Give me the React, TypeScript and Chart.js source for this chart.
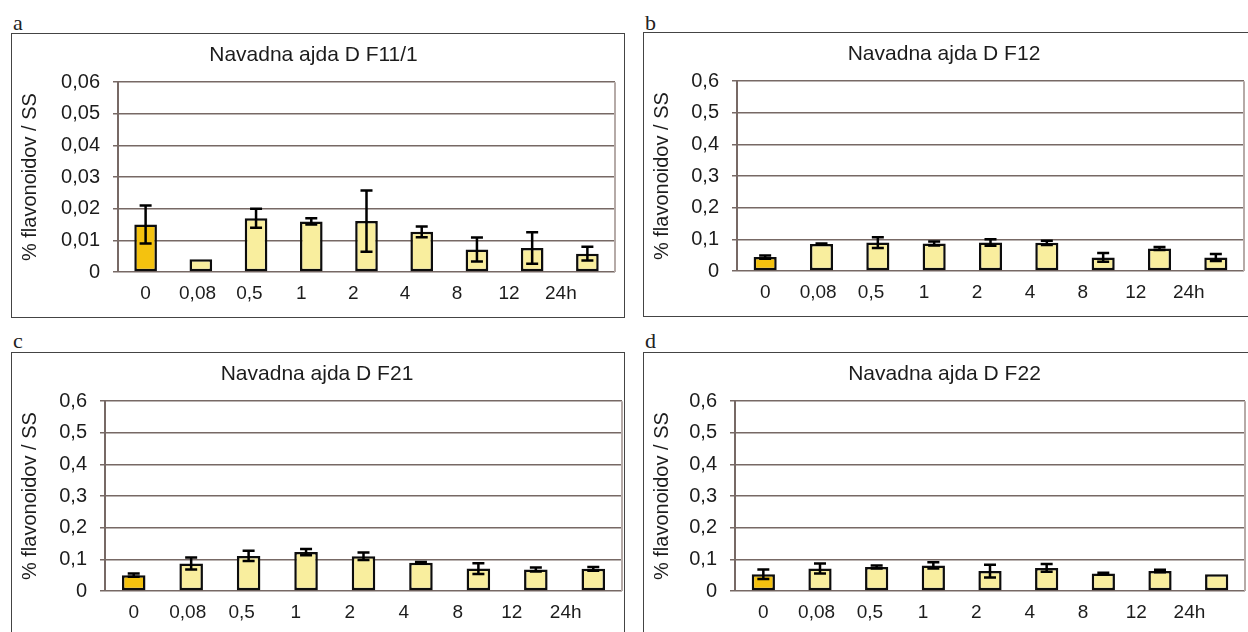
import React, { useEffect, useRef } from 'react';
import { Chart, registerables } from 'chart.js';

Chart.register(...registerables);

// ---- data ----
const CATEGORIES = ['0', '0,08', '0,5', '1', '2', '4', '8', '12', '24h'];

const F11_MEAN = [0.015, 0.004, 0.017, 0.016, 0.0161, 0.0127, 0.0071, 0.0076, 0.0058];
const F11_ERR = [0.006, 0, 0.003, 0.001, 0.0097, 0.0017, 0.0038, 0.005, 0.0022];

const F12_MEAN = [0.044, 0.085, 0.09, 0.087, 0.09, 0.089, 0.043, 0.071, 0.043];
const F12_ERR = [0.005, 0.002, 0.017, 0.006, 0.01, 0.007, 0.014, 0.005, 0.011];

const F21_MEAN = [0.05, 0.087, 0.111, 0.123, 0.11, 0.089, 0.071, 0.068, 0.07];
const F21_ERR = [0.005, 0.019, 0.016, 0.01, 0.012, 0.003, 0.017, 0.006, 0.006];

const F22_MEAN = [0.053, 0.071, 0.076, 0.081, 0.063, 0.073, 0.055, 0.063, 0.053];
const F22_ERR = [0.015, 0.016, 0.005, 0.01, 0.02, 0.012, 0.003, 0.004, 0];

const MEANS = [F11_MEAN, F12_MEAN, F21_MEAN, F22_MEAN];
const ERRS = [F11_ERR, F12_ERR, F21_ERR, F22_ERR];

const PANEL_LETTERS = ['a', 'b', 'c', 'd'];
const TITLES = ['Navadna ajda D F11/1', 'Navadna ajda D F12', 'Navadna ajda D F21', 'Navadna ajda D F22'];
const Y_MAX = [0.06, 0.6, 0.6, 0.6];
const Y_STEP = [0.01, 0.1, 0.1, 0.1];
const Y_DECIMALS = [2, 1, 1, 1];
const Y_TITLE = '% flavonoidov / SS';

// spacing of the x labels relative to the bar spacing (labels were placed slightly tighter)
const LABEL_STEP = 0.94;

// ---- styles ----
const COLOR_BASE = '#F4C20F';
const COLOR_REST = '#F9EE9E';
const GRID = '#776965';
const FRAME_RIGHT = '#b5aaa7';
const TEXT = '#1c1c1c';
const SANS = '"Liberation Sans", Arial, sans-serif';

const LAYOUT = [
  { left: 11, top: 33, labelLeft: 13, labelTop: 12, yWidth: 106, padRight: 9 },
  { left: 643, top: 32, labelLeft: 645, labelTop: 12, yWidth: 93, padRight: 12 },
  { left: 11, top: 352, labelLeft: 13, labelTop: 330, yWidth: 93, padRight: 2 },
  { left: 643, top: 352, labelLeft: 645, labelTop: 330, yWidth: 91, padRight: 11 },
];
const BOX_W = 614;
const BOX_H = 285;

function Panel({ idx }: { idx: number }) {
  const ref = useRef<HTMLCanvasElement>(null);
  const L = LAYOUT[idx];

  useEffect(() => {
    const mean = MEANS[idx];
    const err = ERRS[idx];
    const decimals = Y_DECIMALS[idx];

    const extras = {
      id: 'extras',
      afterDatasetsDraw(chart: any) {
        const ctx = chart.ctx;
        const area = chart.chartArea;
        const y = chart.scales.y;
        ctx.save();
        // right frame of plot area
        ctx.strokeStyle = FRAME_RIGHT;
        ctx.lineWidth = 2;
        ctx.beginPath();
        ctx.moveTo(area.right, area.top);
        ctx.lineTo(area.right, area.bottom);
        ctx.stroke();
        // error bars
        ctx.strokeStyle = '#000';
        ctx.lineWidth = 2.5;
        const meta = chart.getDatasetMeta(0);
        meta.data.forEach((bar: any, i: number) => {
          const e = err[i];
          if (!e) return;
          const x = bar.x;
          const top = y.getPixelForValue(mean[i] + e);
          const bot = y.getPixelForValue(mean[i] - e);
          ctx.beginPath();
          ctx.moveTo(x, top);
          ctx.lineTo(x, bot);
          ctx.moveTo(x - 6, top);
          ctx.lineTo(x + 6, top);
          ctx.moveTo(x - 6, bot);
          ctx.lineTo(x + 6, bot);
          ctx.stroke();
        });
        ctx.restore();
      },
    };

    const chart = new Chart(ref.current as HTMLCanvasElement, {
      type: 'bar',
      data: {
        labels: CATEGORIES,
        datasets: [
          {
            data: mean,
            backgroundColor: mean.map((_, i) => (i === 0 ? COLOR_BASE : COLOR_REST)),
            borderColor: '#0d0d0d',
            borderWidth: 2.5,
            borderSkipped: false,
            barPercentage: 0.41,
            categoryPercentage: 1,
            xAxisID: 'x',
            yAxisID: 'y',
          },
        ],
      },
      options: {
        responsive: false,
        maintainAspectRatio: false,
        animation: false,
        layout: { padding: { left: 0, right: L.padRight, top: 0, bottom: 0 } },
        plugins: {
          legend: { display: false },
          tooltip: { enabled: false },
          title: {
            display: true,
            text: TITLES[idx],
            color: TEXT,
            font: { family: SANS, size: 21, weight: 'normal' },
            padding: { top: 9, bottom: 14 },
          },
        },
        scales: {
          x: { display: false, offset: true },
          x2: {
            type: 'linear',
            position: 'bottom',
            min: -0.5,
            max: 8.5,
            offset: false,
            grid: { display: false, drawTicks: false },
            border: { display: false },
            ticks: {
              autoSkip: false,
              maxRotation: 0,
              minRotation: 0,
              padding: 10,
              color: TEXT,
              font: { family: SANS, size: 19 },
              callback: (_v: any, i: number) => CATEGORIES[i],
            },
            afterBuildTicks: (s: any) => {
              s.ticks = CATEGORIES.map((_, i) => ({ value: i * LABEL_STEP }));
            },
            afterFit: (s: any) => {
              s.height = 45;
            },
          },
          y: {
            min: 0,
            max: Y_MAX[idx],
            ticks: {
              stepSize: Y_STEP[idx],
              padding: 13,
              color: TEXT,
              font: { family: SANS, size: 20 },
              callback: (v: any) => (Number(v) === 0 ? '0' : Number(v).toFixed(decimals).replace('.', ',')),
            },
            grid: { color: GRID, lineWidth: 1.5, tickLength: 5, tickColor: GRID },
            border: { display: true, color: GRID, width: 2 },
            title: {
              display: true,
              text: Y_TITLE,
              color: TEXT,
              font: { family: SANS, size: 20 },
              padding: { top: 6, bottom: 0 },
            },
            afterFit: (s: any) => {
              s.width = L.yWidth;
            },
          },
        },
      } as any,
      plugins: [extras],
    });
    return () => chart.destroy();
  }, []);

  return (
    <>
      <div
        style={{
          position: 'absolute',
          left: L.labelLeft,
          top: L.labelTop,
          fontFamily: '"Liberation Serif", "Times New Roman", serif',
          fontSize: 22,
          lineHeight: '22px',
          color: '#222',
        }}
      >
        {PANEL_LETTERS[idx]}
      </div>
      <div
        style={{
          position: 'absolute',
          left: L.left,
          top: L.top,
          width: BOX_W,
          height: BOX_H,
          border: '1px solid #444',
          boxSizing: 'border-box',
          background: '#fff',
        }}
      >
        <canvas
          ref={ref}
          width={BOX_W - 2}
          height={BOX_H - 2}
          style={{ display: 'block', width: BOX_W - 2, height: BOX_H - 2 }}
        />
      </div>
    </>
  );
}

export default function App() {
  return (
    <div
      style={{
        position: 'absolute',
        left: 0,
        top: 0,
        width: 1248,
        height: 632,
        overflow: 'hidden',
        background: '#fff',
      }}
    >
      {[0, 1, 2, 3].map((i) => (
        <Panel key={i} idx={i} />
      ))}
    </div>
  );
}
